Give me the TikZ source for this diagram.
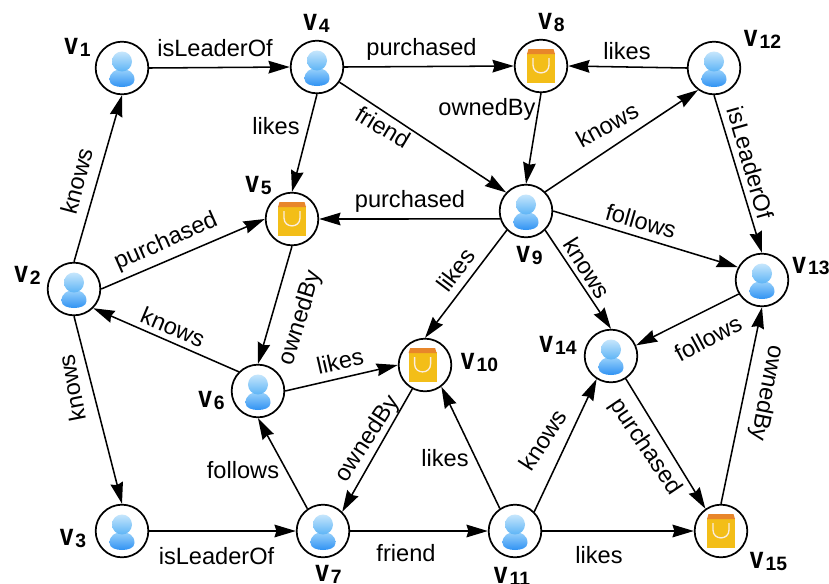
\documentclass[tikz,border=0pt]{standalone}
\usepackage{fontspec}
\setmainfont{Liberation Sans}
\usetikzlibrary{arrows.meta}
\tikzset{
  x=0.75pt,y=-0.75pt,
  vertex/.style={circle,draw=black,line width=1.3pt,fill=white,minimum size=39.5pt,inner sep=0pt},
  conn/.style={line width=1.15pt,-{Stealth[length=16pt,width=9.5pt,inset=1.5pt]}},
  lbl/.style={inner sep=0pt,font=\fontsize{17.7}{18}\selectfont},
  vname/.style={inner sep=0pt,font=\fontsize{23}{23}\selectfont\bfseries},
  person/.pic={
    \path[top color=personA,bottom color=personB,draw=none]
      (-12.5,12) .. controls (-12.5,4) and (-6,1) .. (0,1) .. controls (6,1) and (12.5,4) .. (12.5,12)
      .. controls (12.5,17) and (6,19) .. (0,19) .. controls (-6,19) and (-12.5,17) .. (-12.5,12) -- cycle;
    \path[top color=personC,bottom color=personD,draw=none] (0,-6.5) circle[radius=10];
  },
  bag/.pic={
    \fill[bagbody] (-14,-13) -- (14,-13) -- (14,17) -- (-14,17) -- cycle;
    \fill[bagtop] (-12.5,-17) -- (12.5,-17) -- (14,-12) -- (-14,-12) -- cycle;
    \draw[white!85!bagtop,line width=1pt] (-8,-8) -- (-8,-1) .. controls (-8,9.5) and (8,9.5) .. (8,-1) -- (8,-8);
  }
}
\definecolor{personA}{HTML}{9AD2FB}
\definecolor{personB}{HTML}{2F92F3}
\definecolor{personC}{HTML}{C6E6FC}
\definecolor{personD}{HTML}{5DB4F6}
\definecolor{bagbody}{HTML}{F3BE18}
\definecolor{bagtop}{HTML}{E8862A}
\newcommand{\vn}[1]{\scalebox{0.8}[1]{v}\kern1.5pt\raisebox{-1.5pt}{\fontsize{14.5}{14.5}\selectfont #1}}
\begin{document}
\begin{tikzpicture}
\useasboundingbox (0,0) rectangle (829,583);
\clip (0,0) rectangle (829,583);
\node[vertex] (v1) at (122,68) {};
\node[vertex] (v2) at (74,289) {};
\node[vertex] (v3) at (122,531) {};
\node[vertex] (v4) at (317,67) {};
\node[vertex] (v5) at (292,219) {};
\node[vertex] (v6) at (258,391) {};
\node[vertex] (v7) at (323,531) {};
\node[vertex] (v8) at (541,66) {};
\node[vertex] (v9) at (526,211) {};
\node[vertex] (v10) at (425,365) {};
\node[vertex] (v11) at (515,531) {};
\node[vertex] (v12) at (714,68) {};
\node[vertex] (v13) at (762,280) {};
\node[vertex] (v14) at (611,356) {};
\node[vertex] (v15) at (721,531) {};
\foreach \n in {v1,v2,v3,v4,v6,v7,v9,v11,v12,v13,v14} \pic at (\n) {person};
\foreach \n in {v5,v8,v15} \pic at (\n) {bag};
\pic at ([xshift=-1.8pt]v10) {bag};
\node[vname] (n1) at (77.5,47) {\vn{1}};
\node[vname] (n2) at (27.5,275.5) {\vn{2}};
\node[vname] (n3) at (73,538.5) {\vn{3}};
\node[vname] (n4) at (316.5,23.5) {\vn{4}};
\node[vname] (n5) at (258.5,185) {\vn{5}};
\node[vname] (n6) at (211.5,400) {\vn{6}};
\node[vname] (n7) at (328.5,574.5) {\vn{7}};
\node[vname] (n8) at (551.5,22.5) {\vn{8}};
\node[vname] (n9) at (529.5,255.5) {\vn{9}};
\node[vname] (n10) at (479.5,362.5) {\vn{10}};
\node[vname] (n11) at (512,576) {\vn{11}};
\node[vname] (n12) at (762.5,39) {\vn{12}};
\node[vname] (n13) at (811,266) {\vn{13}};
\node[vname] (n14) at (558,345) {\vn{14}};
\node[vname] (n15) at (768.5,561) {\vn{15}};
\draw[conn] (v1.east) -- (v4.west);
\draw[conn] (v2.north) -- (v1.south);
\draw[conn] (v2.east) -- (v5.west);
\draw[conn] (v2.south) -- (v3.north);
\draw[conn] (v3.east) -- (v7.west);
\draw[conn] (v4.east) -- (v8.west);
\draw[conn] (v4.south) -- (v5.north);
\draw[conn] (v4.326) -- (v9.137);
\draw[conn] (v8.south) -- (v9.north);
\draw[conn] (v12.west) -- (v8.east);
\draw[conn] (v9.north east) -- (v12.234);
\draw[conn] (v12.south) -- (v13.north);
\draw[conn] (v9.197) -- (v5.east);
\draw[conn] (v9.east) -- (v13.152);
\draw[conn] (v9.south east) -- (v14.north);
\draw[conn] (v9.south west) -- (v10.north);
\draw[conn] (v5.south) -- (v6.north);
\draw[conn] (v6.north west) -- (v2.south east);
\draw[conn] (v6.east) -- (v10.west);
\draw[conn] (v7.125) -- (v6.south);
\draw[conn] (v10.242) -- (v7.north east);
\draw[conn] (v7.east) -- (v11.west);
\draw[conn] (v11.124) -- (v10.307);
\draw[conn] (v11.north east) -- (v14.238);
\draw[conn] (v11.east) -- (v15.west);
\draw[conn] (v14.303) -- (v15.125);
\draw[conn] (v15.north) -- (v13.south);
\draw[conn] (v13.211) -- (v14.23);
\node[lbl] (l1) at (215,48) {isLeaderOf};
\node[lbl,rotate=75] (l2) at (77,181) {knows};
\node[lbl,rotate=24] (l3) at (166,242) {purchased};
\node[lbl,rotate=101] (l4) at (72,388) {knows};
\node[lbl] (l5) at (216.5,556) {isLeaderOf};
\node[lbl] (l6) at (421.5,49) {purchased};
\node[lbl] (l7) at (276,126) {likes};
\node[lbl,rotate=-31] (l8) at (383,127) {friend};
\node[lbl] (l9) at (487,109) {ownedBy};
\node[lbl] (l10) at (627,51) {likes};
\node[lbl,rotate=29] (l11) at (607,125) {knows};
\node[lbl,rotate=-74] (l12) at (751,163) {isLeaderOf};
\node[lbl] (l13) at (410,201) {purchased};
\node[lbl,rotate=-16] (l14) at (641,221) {follows};
\node[lbl,rotate=-58] (l15) at (587,268) {knows};
\node[lbl,rotate=53] (l16) at (456,270) {likes};
\node[lbl,rotate=73] (l17) at (301,318) {ownedBy};
\node[lbl,rotate=-23] (l18) at (173,327) {knows};
\node[lbl,rotate=13] (l19) at (340,361) {likes};
\node[lbl] (l20) at (243,470) {follows};
\node[lbl,rotate=57] (l21) at (368,439) {ownedBy};
\node[lbl] (l22) at (406,553) {friend};
\node[lbl] (l23) at (445,458) {likes};
\node[lbl,rotate=57] (l24) at (543,440) {knows};
\node[lbl] (l25) at (599,555) {likes};
\node[lbl,rotate=-56] (l26) at (645,447) {purchased};
\node[lbl,rotate=-101] (l27) at (766,393) {ownedBy};
\node[lbl,rotate=28] (l28) at (708,338) {follows};
\end{tikzpicture}
\end{document}
